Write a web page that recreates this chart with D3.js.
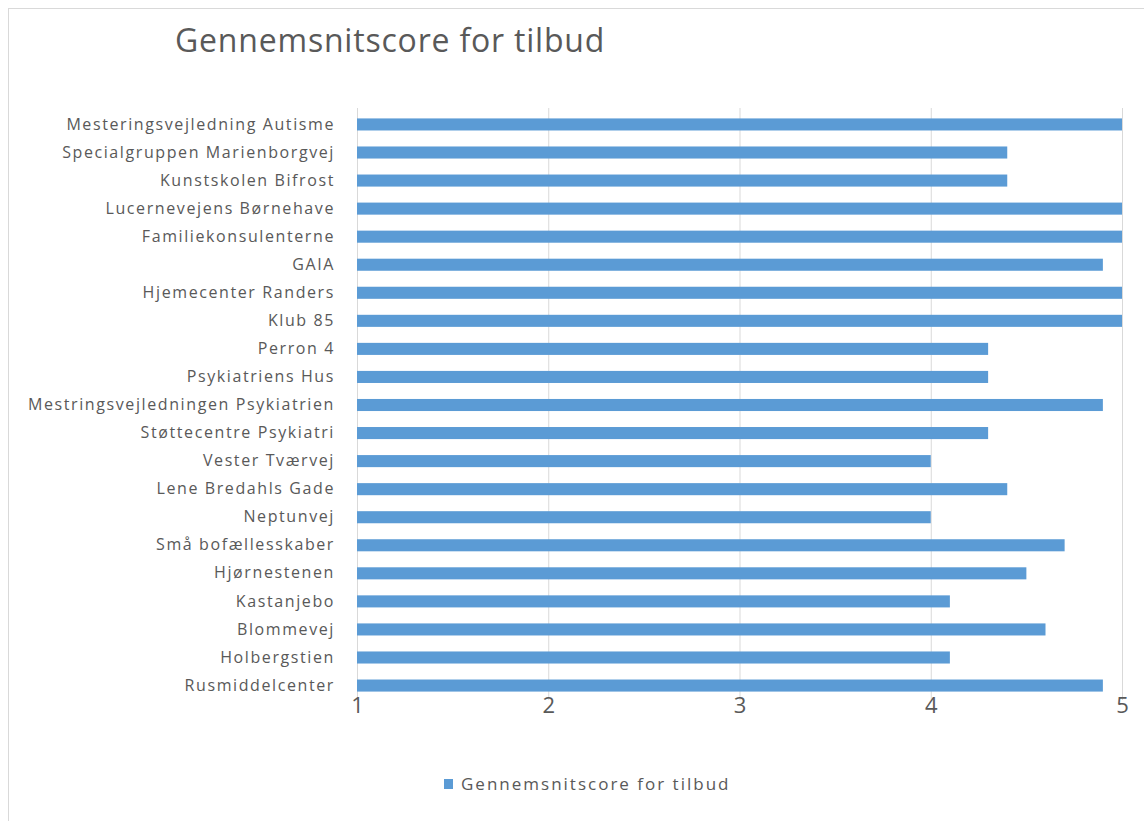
<!DOCTYPE html>
<html>
<head>
<meta charset="utf-8">
<script src="https://cdn.jsdelivr.net/npm/d3@7"></script>
<style>
  body { margin: 0; background: #fff; }
  text { font-family: "Open Sans", "DejaVu Sans", sans-serif; fill: #595959; }
</style>
</head>
<body>
<svg id="chart" width="1144" height="821"></svg>
<script>
// categories, top to bottom as in the picture
const categories = [
  "Mesteringsvejledning Autisme",
  "Specialgruppen Marienborgvej",
  "Kunstskolen Bifrost",
  "Lucernevejens Børnehave",
  "Familiekonsulenterne",
  "GAIA",
  "Hjemecenter Randers",
  "Klub 85",
  "Perron 4",
  "Psykiatriens Hus",
  "Mestringsvejledningen Psykiatrien",
  "Støttecentre Psykiatri",
  "Vester Tværvej",
  "Lene Bredahls Gade",
  "Neptunvej",
  "Små bofællesskaber",
  "Hjørnestenen",
  "Kastanjebo",
  "Blommevej",
  "Holbergstien",
  "Rusmiddelcenter"
];
const scores = [5, 4.4, 4.4, 5, 5, 4.9, 5, 5, 4.3, 4.3, 4.9, 4.3, 4.0, 4.4, 4.0, 4.7, 4.5, 4.1, 4.6, 4.1, 4.9];
const xTicks = [1, 2, 3, 4, 5];
const title = "Gennemsnitscore for tilbud";
const seriesName = "Gennemsnitscore for tilbud";

const data = categories.map((c, i) => ({ name: c, value: scores[i] }));

const svg = d3.select("#chart");
const margin = { top: 110, right: 22, bottom: 121, left: 357 };
const W = 1144, H = 821;

// chart frame (excel-ish border)
svg.append("rect")
  .attr("x", 8.5).attr("y", 8.5)
  .attr("width", W + 10).attr("height", H + 10)
  .attr("fill", "none")
  .attr("stroke", "#d9d9d9");

const x = d3.scaleLinear().domain([1, 5]).range([margin.left, W - margin.right]);
const y = d3.scaleBand().domain(categories)
  .range([margin.top, H - margin.bottom])
  .paddingInner(0.57).paddingOuter(0.3);

// gridlines
svg.append("g")
  .selectAll("line")
  .data(xTicks)
  .join("line")
  .attr("x1", d => x(d) + 0.5).attr("x2", d => x(d) + 0.5)
  .attr("y1", margin.top - 2).attr("y2", H - margin.bottom)
  .attr("stroke", "#d9d9d9")
  .attr("stroke-width", 1);

// bars
svg.append("g")
  .selectAll("rect")
  .data(data)
  .join("rect")
  .attr("x", x(1))
  .attr("y", d => y(d.name))
  .attr("width", d => x(d.value) - x(1))
  .attr("height", y.bandwidth())
  .attr("fill", "#5b9bd5");

// category axis (excel draws these quite wide, hence the letter spacing)
const yAxis = d3.axisLeft(y).tickSize(0).tickPadding(22);
const gy = svg.append("g")
  .attr("transform", `translate(${margin.left},0)`)
  .call(yAxis);
gy.select(".domain").remove();
gy.selectAll("text")
  .style("font-size", "16px")
  .style("letter-spacing", "1.6px")
  .attr("fill", "#595959");

// value axis
const xAxis = d3.axisBottom(x).tickValues(xTicks).tickFormat(d3.format("d")).tickSize(0).tickPadding(0);
const gx = svg.append("g")
  .attr("transform", `translate(0,${H - margin.bottom - 3})`)
  .call(xAxis);
gx.select(".domain").remove();
gx.selectAll("text").style("font-size", "22px").attr("fill", "#595959");

// title
svg.append("text")
  .attr("x", 175).attr("y", 52)
  .style("font-size", "32px")
  .style("letter-spacing", "0.8px")
  .text(title);

// legend
const legend = svg.append("g").attr("transform", "translate(444,779)");
legend.append("rect").attr("width", 9).attr("height", 10).attr("fill", "#5b9bd5");
legend.append("text")
  .attr("x", 17).attr("y", 11)
  .style("font-size", "17px")
  .style("letter-spacing", "2px")
  .text(seriesName);
</script>
</body>
</html>
